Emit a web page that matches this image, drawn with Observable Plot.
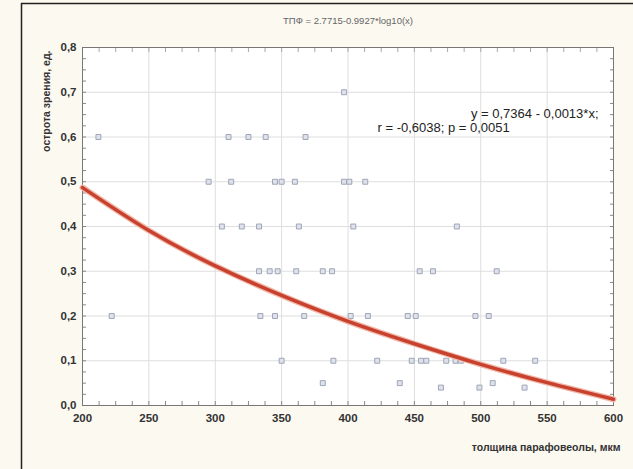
<!DOCTYPE html>
<html>
<head>
<meta charset="utf-8">
<script src="https://cdn.jsdelivr.net/npm/d3@7"></script>
<script src="https://cdn.jsdelivr.net/npm/@observablehq/plot@0.6"></script>
<style>
  html, body { margin: 0; padding: 0; background: #fcf9f1; }
  svg { display: block; }
</style>
</head>
<body>
<div id="chart"></div>
<script>
// Scatter values, grouped by visual acuity level (y)
const row07 = [397];
const row06 = [212, 310, 325, 338, 368];
const row05 = [295, 312, 345, 350, 360, 397, 401, 413];
const row04 = [305, 320, 333, 363, 404, 482];
const row03 = [333, 341, 347, 361, 381, 388, 454, 464, 512];
const row02 = [222, 334, 345, 367, 402, 415, 445, 451, 496, 506];
const row01 = [350, 389, 422, 448, 455, 459, 474, 481, 485, 517, 541];
const row005 = [381, 439, 509];
const row004 = [470, 499, 533];
const rowLevels = [0.7, 0.6, 0.5, 0.4, 0.3, 0.2, 0.1, 0.05, 0.04];
const rows = [row07, row06, row05, row04, row03, row02, row01, row005, row004];

// Fitted curve
const curveX = [200, 250, 300, 350, 400, 450, 500, 550, 600];
const curveY = [0.487, 0.391, 0.312, 0.246, 0.188, 0.138, 0.092, 0.051, 0.014];

const xTicks = [200, 250, 300, 350, 400, 450, 500, 550, 600];
const yTicks = [0, 0.1, 0.2, 0.3, 0.4, 0.5, 0.6, 0.7, 0.8];

const titleText = "ТПФ = 2.7715-0.9927*log10(x)";
const eq1 = "y = 0,7364 - 0,0013*x;";
const eq2 = "r = -0,6038; p = 0,0051";
const xLabel = "толщина парафовеолы, мкм";
const yLabel = "острота зрения, ед.";

const points = rows.flatMap((r, i) => r.map(x => ({x, y: rowLevels[i]})));
const curve = curveX.map((x, i) => ({x, y: curveY[i]}));

const font = "Liberation Sans, Arial, sans-serif";

const chart = Plot.plot({
  width: 633,
  height: 469,
  marginLeft: 82,
  marginRight: 20,
  marginTop: 47,
  marginBottom: 64,
  style: {background: "#fcf9f1", fontFamily: font},
  x: {domain: [200, 600], label: null},
  y: {domain: [0, 0.8], label: null},
  marks: [
    Plot.frame({fill: "white", stroke: null}),
    Plot.gridX(xTicks, {stroke: "#dedede", strokeOpacity: 1}),
    Plot.gridY(yTicks, {stroke: "#dedede", strokeOpacity: 1}),
    Plot.axisX(d3.range(200, 601, 12.5), {tickSize: -4, text: null, stroke: "#888", label: null}),
    Plot.axisX(d3.range(200, 601, 12.5), {anchor: "top", tickSize: -4, text: null, stroke: "#aaa", label: null}),
    Plot.axisY(d3.range(0, 0.801, 0.025), {tickSize: -4, text: null, stroke: "#888", label: null}),
    Plot.axisY(d3.range(0, 0.801, 0.025), {anchor: "right", tickSize: -4, text: null, stroke: "#888", label: null}),
    Plot.axisX(xTicks, {tickSize: 0, tickPadding: 8, tickFormat: d => String(d), fontSize: 11.5, fontWeight: "bold", fill: "#333", label: null}),
    Plot.axisY(yTicks, {tickSize: 0, tickPadding: 6, tickFormat: d => d.toFixed(1).replace(".", ","), fontSize: 11.5, fontWeight: "bold", fill: "#333", label: null}),
    Plot.frame({stroke: "#777"}),
    Plot.dot(points, {x: "x", y: "y", symbol: "square", r: 2.8, fill: "#dfe2ea", stroke: "#9ea6b8", strokeWidth: 1}),
    Plot.line(curve, {x: "x", y: "y", curve: "natural", stroke: "#f1b8a8", strokeWidth: 6}),
    Plot.line(curve, {x: "x", y: "y", curve: "natural", stroke: "#c8402e", strokeWidth: 3.5}),
    Plot.text([titleText], {frameAnchor: "top", lineAnchor: "middle", dy: -27, fontSize: 9.5, fill: "#666", fontFamily: font}),
    Plot.text([eq1], {frameAnchor: "top-right", lineAnchor: "middle", dx: -15, dy: 66, textAnchor: "end", fontSize: 13, fill: "#222", fontFamily: font}),
    Plot.text([eq2], {frameAnchor: "top-left", lineAnchor: "middle", dx: 295, dy: 80, textAnchor: "start", fontSize: 13, fill: "#222", fontFamily: font}),
    Plot.text([xLabel], {frameAnchor: "bottom-right", lineAnchor: "middle", dx: 7, dy: 42, textAnchor: "end", fontSize: 10.5, fontWeight: "bold", fill: "#333", fontFamily: font}),
    Plot.text([yLabel], {frameAnchor: "top-left", dx: -40, dy: 3, rotate: -90, textAnchor: "end", fontSize: 10.5, fontWeight: "bold", fill: "#333", fontFamily: font})
  ]
});

// outer figure border lines (top and left)
const svg = d3.select(chart);
svg.append("line").attr("x1", 21).attr("x2", 633).attr("y1", 3.5).attr("y2", 3.5).attr("stroke", "#222").attr("stroke-width", 1.5);
svg.append("line").attr("x1", 21.5).attr("x2", 21.5).attr("y1", 3).attr("y2", 469).attr("stroke", "#222").attr("stroke-width", 1.5);

document.getElementById("chart").appendChild(chart);
</script>
</body>
</html>
